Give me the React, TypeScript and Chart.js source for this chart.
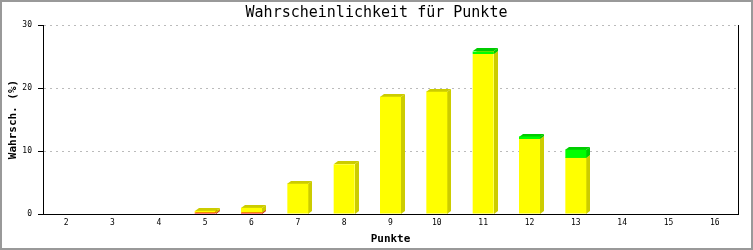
import React, { useEffect, useRef } from 'react';
import { Chart, registerables } from 'chart.js';

Chart.register(...registerables);

const categories = ['2', '3', '4', '5', '6', '7', '8', '9', '10', '11', '12', '13', '14', '15', '16'];
const redValues = [0, 0, 0, 0.2, 0.2, 0, 0, 0, 0, 0, 0, 0, 0, 0, 0];
const yellowValues = [0, 0, 0, 0.3, 0.78, 4.8, 7.9, 18.6, 19.4, 25.4, 11.9, 8.9, 0, 0, 0];
const greenValues = [0, 0, 0, 0, 0, 0, 0, 0, 0, 0.4, 0.4, 1.3, 0, 0, 0];
const yTicks = [0, 10, 20, 30];

const frontColors = ['#ff0000', '#ffff00', '#00ff00'];
const sideColors = ['#cc0000', '#cccc00', '#00cc00'];

const bar3d = {
  id: 'bar3d',
  beforeDatasetsDraw(chart: any) {
    const ctx = chart.ctx;
    const dx = 4;
    const dy = 3;
    ctx.save();
    chart.data.datasets.forEach((ds: any, di: number) => {
      const meta = chart.getDatasetMeta(di);
      meta.data.forEach((el: any, i: number) => {
        const v = ds.data[i];
        if (!v) return;
        const { x, y, base, width } = el.getProps(['x', 'y', 'base', 'width'], true);
        const l = Math.round(x - width / 2);
        const r = Math.round(x + width / 2);
        const t = Math.round(Math.min(y, base));
        const b = Math.round(Math.max(y, base));
        ctx.fillStyle = sideColors[di];
        ctx.beginPath();
        ctx.moveTo(r, t);
        ctx.lineTo(r + dx, t - dy);
        ctx.lineTo(r + dx, b - dy);
        ctx.lineTo(r, b);
        ctx.closePath();
        ctx.fill();
        ctx.beginPath();
        ctx.moveTo(l, t);
        ctx.lineTo(l + dx, t - dy);
        ctx.lineTo(r + dx, t - dy);
        ctx.lineTo(r, t);
        ctx.closePath();
        ctx.fill();
      });
    });
    ctx.restore();
  },
};

const frame = {
  id: 'frame',
  afterDraw(chart: any) {
    const ctx = chart.ctx;
    ctx.save();
    ctx.strokeStyle = '#999999';
    ctx.lineWidth = 2;
    ctx.strokeRect(1, 1, chart.width - 2, chart.height - 2);
    ctx.restore();
  },
};

export default function App() {
  const ref = useRef<HTMLCanvasElement>(null);

  useEffect(() => {
    document.body.style.margin = '0';
    const canvas = ref.current;
    if (!canvas) return;
    const mono = 'DejaVu Sans Mono';
    const chart = new Chart(canvas, {
      type: 'bar',
      data: {
        labels: categories,
        datasets: [
          { data: redValues, backgroundColor: frontColors[0], borderWidth: 0, stack: 's', inflateAmount: 0 },
          { data: yellowValues, backgroundColor: frontColors[1], borderWidth: 0, stack: 's', inflateAmount: 0 },
          { data: greenValues, backgroundColor: frontColors[2], borderWidth: 0, stack: 's', inflateAmount: 0 },
        ],
      },
      options: {
        animation: false,
        responsive: false,
        devicePixelRatio: 1,
        layout: { padding: 0 },
        datasets: { bar: { categoryPercentage: 0.453, barPercentage: 1 } },
        plugins: {
          legend: { display: false },
          tooltip: { enabled: false },
          title: {
            display: true,
            text: 'Wahrscheinlichkeit für Punkte',
            color: '#000',
            font: { family: mono, size: 15, weight: 'normal' },
            padding: { top: 4, bottom: 3 },
          },
        },
        scales: {
          x: {
            stacked: true,
            grid: { display: false, drawTicks: false },
            border: { display: true, color: '#000', width: 1 },
            ticks: { color: '#000', font: { family: mono, size: 8 }, padding: 4, maxRotation: 0, autoSkip: false },
            title: {
              display: true,
              text: 'Punkte',
              color: '#000',
              font: { family: mono, size: 11, weight: 'bold' },
              padding: { top: 0, bottom: 4 },
            },
            afterFit: (s: any) => { s.height = 36; },
          },
          y: {
            stacked: true,
            min: 0,
            max: 30,
            afterBuildTicks: (s: any) => { s.ticks = yTicks.map((v) => ({ value: v })); },
            grid: {
              color: (c: any) => (c.tick && c.tick.value === 0 ? 'rgba(0,0,0,0)' : '#bbbbbb'),
              tickColor: '#000',
              tickLength: 5,
              tickBorderDash: [1, 0],
              lineWidth: 1,
            },
            border: { display: true, color: '#000', width: 1, dash: [2, 4] },
            ticks: { color: '#000', font: { family: mono, size: 8 }, padding: 6 },
            title: {
              display: true,
              text: 'Wahrsch. (%)',
              color: '#000',
              font: { family: mono, size: 11, weight: 'bold' },
              padding: { top: 7, bottom: 0 },
            },
            afterFit: (s: any) => { s.width = 43; },
          },
          y2: {
            position: 'right',
            min: 0,
            max: 30,
            grid: { drawOnChartArea: false, drawTicks: false },
            border: { display: true, color: '#000', width: 1 },
            ticks: { display: false },
            afterFit: (s: any) => { s.width = 15; },
          },
        },
      },
      plugins: [bar3d, frame],
    } as any);
    return () => chart.destroy();
  }, []);

  return (
    <div style={{ width: 753, height: 250 }}>
      <canvas ref={ref} width={753} height={250} />
    </div>
  );
}
